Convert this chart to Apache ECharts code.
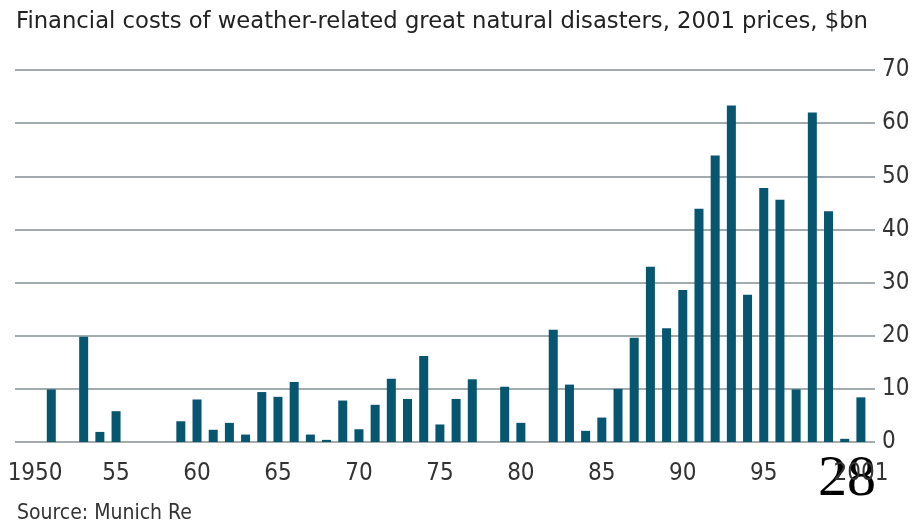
<!DOCTYPE html>
<html>
<head>
<meta charset="utf-8">
<script src="https://cdn.jsdelivr.net/npm/echarts@6/dist/echarts.min.js"></script>
<style>html,body{margin:0;padding:0;background:#fff}#c{width:914px;height:526px}</style>
</head>
<body>
<div id="c"></div>
<script>
const years = [];
for (let y = 1950; y <= 2001; y++) years.push(String(y));
const costs = [
  0, 9.9, 0, 19.8, 1.9, 5.8, 0, 0, 0, 3.9,
  8.0, 2.3, 3.6, 1.4, 9.4, 8.5, 11.3, 1.4, 0.4, 7.8,
  2.4, 7.0, 11.9, 8.1, 16.2, 3.3, 8.1, 11.8, 0, 10.4,
  3.6, 0, 21.1, 10.8, 2.1, 4.6, 10.0, 19.6, 33.0, 21.4,
  28.6, 43.9, 53.9, 63.3, 27.7, 47.8, 45.6, 9.9, 62.0, 43.4,
  0.6, 8.4
];
const yTicks = [0, 10, 20, 30, 40, 50, 60, 70];
const titleText = 'Financial costs of weather-related great natural disasters, 2001 prices, $bn';
const sourceText = 'Source: Munich Re';
const pageNumber = '28';

const FONT = '"DejaVu Sans Condensed", "Liberation Sans Narrow", "Open Sans", sans-serif';
const chart = echarts.init(document.getElementById('c'), null, {renderer: 'canvas'});
chart.setOption({
  animation: false,
  backgroundColor: '#ffffff',
  title: {
    text: titleText, left: 11, top: 6,
    textStyle: {fontFamily: '"DejaVu Sans", sans-serif', fontSize: 22.7, fontWeight: 'normal', color: '#222'}
  },
  grid: [
    {left: 15, right: 39, top: 70, bottom: 84},
    {left: 27, right: 45, top: 70, bottom: 84}
  ],
  xAxis: [
    {gridIndex: 0, type: 'category', data: years, show: false},
    {
      gridIndex: 1, type: 'category', data: years, boundaryGap: true,
      axisLine: {show: false}, axisTick: {show: false},
      axisLabel: {
        interval: (i) => (i % 5 === 0 && i < 50) || i === 51,
        formatter: (v) => (v === '1950' || v === '2001') ? v : v.slice(2),
        margin: 20, fontFamily: FONT, fontSize: 24, color: '#333'
      }
    }
  ],
  yAxis: [
    {
      gridIndex: 0, type: 'value', position: 'right', min: 0, max: 70, interval: 10,
      axisLine: {show: false}, axisTick: {show: false},
      axisLabel: {margin: 7, fontFamily: FONT, fontSize: 24, color: '#333',
        formatter: (v) => yTicks.includes(v) ? String(v) : ''},
      splitLine: {show: true, lineStyle: {color: '#a3abaf', width: 2}}
    },
    {gridIndex: 1, type: 'value', min: 0, max: 70, interval: 10, show: false, splitLine: {show: false}}
  ],
  series: [{
    type: 'bar', xAxisIndex: 1, yAxisIndex: 1, data: costs,
    barWidth: 9, itemStyle: {color: '#06566f'}
  }],
  graphic: [
    {type: 'text', left: 17, top: 503,
      style: {text: sourceText, font: '21px ' + FONT, fill: '#333'}},
    {type: 'text', x: 818, y: 451,
      style: {text: pageNumber, font: '58px "Liberation Serif", "DejaVu Serif", serif', fill: '#000', textVerticalAlign: 'top'}}
  ]
});
</script>
</body>
</html>
